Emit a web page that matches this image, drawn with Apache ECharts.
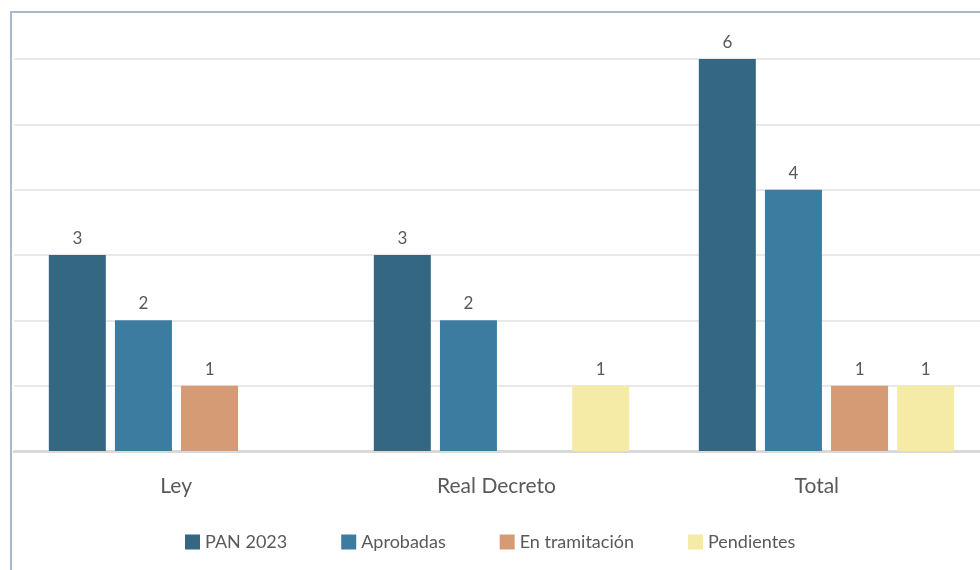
<!DOCTYPE html>
<html><head><meta charset="utf-8">
<script src="https://cdn.jsdelivr.net/npm/echarts@6/dist/echarts.min.js"></script>
<style>html,body{margin:0;padding:0;background:#fff;overflow:hidden;width:980px;height:570px}#c{width:1000px;height:570px}</style>
</head><body><div id="c"></div>
<script>
const categories = ['Ley', 'Real Decreto', 'Total'];
const pan2023 = [3, 3, 6];
const aprobadas = [2, 2, 4];
const enTramitacion = [1, null, 1];
const pendientes = [null, 1, 1];
const seriesNames = ['PAN 2023', 'Aprobadas', 'En tramitación', 'Pendientes'];
const colors = ['#346781', '#3d7ca1', '#d49b75', '#f5eba6'];

const chart = echarts.init(document.getElementById('c'));
const font = 'Lato, "Open Sans", sans-serif';
const mk = (name, data, color) => ({
  name, type: 'bar', data, barWidth: 57, barGap: '16%',
  xAxisIndex: 0, yAxisIndex: 0,
  itemStyle: { color },
  label: { show: true, position: 'top', distance: 8, color: '#595959', fontSize: 17, fontFamily: font }
});
chart.setOption({
  animation: false,
  color: colors,
  graphic: [{ type: 'rect', shape: { x: 11, y: 12, width: 1100, height: 700 }, style: { fill: 'none', stroke: '#a9b8cc', lineWidth: 2 }, silent: true }],
  grid: [
    { left: 14, width: 975, top: 59, bottom: 119, containLabel: false },
    { left: 16, width: 961, top: 59, bottom: 119, containLabel: false }
  ],
  legend: {
    bottom: 14, left: 180, itemWidth: 15, itemHeight: 15, itemGap: 54, icon: 'rect',
    textStyle: { color: '#595959', fontSize: 18, fontFamily: font },
    data: seriesNames
  },
  xAxis: [{
    type: 'category', data: categories, gridIndex: 0,
    axisLine: { lineStyle: { color: '#d9d9d9', width: 3 } },
    axisTick: { show: false },
    axisLabel: { show: false }
  }, {
    type: 'category', data: categories, gridIndex: 1,
    axisLine: { show: false },
    axisTick: { show: false },
    axisLabel: { color: '#595959', fontSize: 21, fontFamily: font, margin: 25 }
  }],
  yAxis: [{
    type: 'value', min: 0, max: 6, interval: 1, gridIndex: 0,
    axisLabel: { show: false }, axisLine: { show: false }, axisTick: { show: false },
    splitLine: { lineStyle: { color: '#e0e0e0', width: 1.5 } }
  }, {
    type: 'value', min: 0, max: 6, interval: 1, gridIndex: 1, show: false
  }],
  series: [
    mk(seriesNames[0], pan2023, colors[0]),
    mk(seriesNames[1], aprobadas, colors[1]),
    mk(seriesNames[2], enTramitacion, colors[2]),
    mk(seriesNames[3], pendientes, colors[3])
  ]
});
</script></body></html>
